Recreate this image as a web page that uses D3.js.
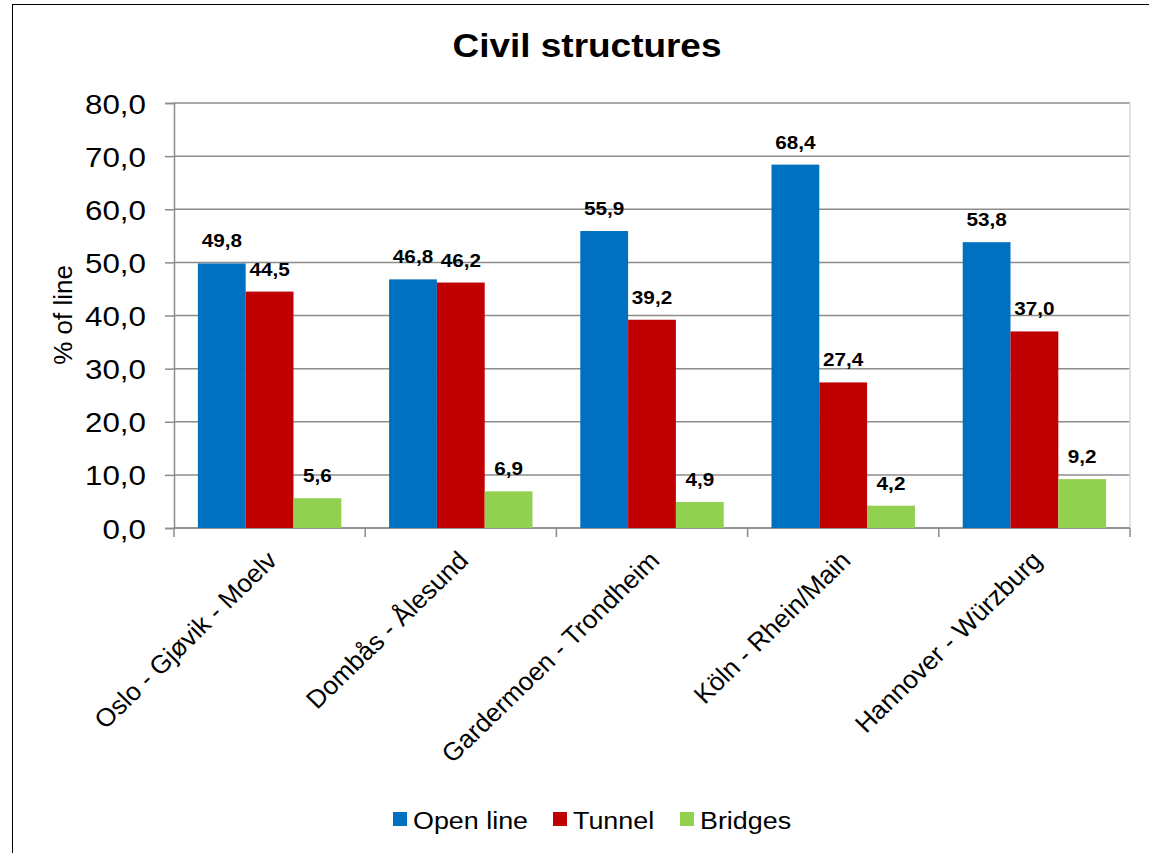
<!DOCTYPE html>
<html>
<head>
<meta charset="utf-8">
<script src="https://cdn.jsdelivr.net/npm/d3@7"></script>
<style>
  html, body { margin: 0; padding: 0; background: #fff; }
  svg { display: block; font-family: Arial, "Liberation Sans", sans-serif; }
</style>
</head>
<body>
<svg id="chart" width="1149" height="853"></svg>
<script>
// Share of each line's length by structure type
const routes = ["Oslo - Gjøvik - Moelv", "Dombås - Ålesund", "Gardermoen - Trondheim", "Köln - Rhein/Main", "Hannover - Würzburg"];
const seriesNames = ["Open line", "Tunnel", "Bridges"];
const openLine = [49.8, 46.8, 55.9, 68.4, 53.8];
const tunnel   = [44.5, 46.2, 39.2, 27.4, 37.0];
const bridges  = [5.6, 6.9, 4.9, 4.2, 9.2];
const yTicks = [0, 10, 20, 30, 40, 50, 60, 70, 80];
const colors = ["#0070C0", "#C00000", "#92D050"];

const values = [openLine, tunnel, bridges];
const fmt = v => v.toFixed(1).replace(".", ",");
const SX = 1.12; // horizontal text stretch

const svg = d3.select("#chart");
const plot = { left: 174, right: 1130, top: 103, bottom: 528 };
const gridColor = "#8c8c8c";

// chart frame
svg.append("rect")
  .attr("x", 12.5).attr("y", 4.5)
  .attr("width", 1200).attr("height", 900)
  .attr("fill", "none").attr("stroke", "#000").attr("stroke-width", 1);

const x = d3.scaleBand().domain(routes).range([plot.left, plot.right]);
const xs = d3.scaleBand().domain(seriesNames).range([0, x.bandwidth()]).paddingOuter(0.5);
const y = d3.scaleLinear().domain([0, 80]).range([plot.bottom, plot.top]);

// horizontal gridlines
svg.append("g").selectAll("line").data(yTicks).join("line")
  .attr("x1", plot.left).attr("x2", plot.right)
  .attr("y1", d => y(d)).attr("y2", d => y(d))
  .attr("stroke", gridColor).attr("stroke-width", 1.5);

// right edge of plot area
svg.append("line")
  .attr("x1", plot.right).attr("x2", plot.right)
  .attr("y1", plot.top).attr("y2", plot.bottom)
  .attr("stroke", "#d9d9d9").attr("stroke-width", 1.5);

// y axis
const yAxis = d3.axisLeft(y).tickValues(yTicks).tickFormat(fmt).tickSize(9);
const gy = svg.append("g").attr("transform", `translate(${plot.left},0)`).call(yAxis);
gy.select(".domain").attr("stroke", gridColor).attr("stroke-width", 1.5);
gy.selectAll(".tick line").attr("stroke", gridColor).attr("stroke-width", 1.5);
gy.selectAll(".tick text")
  .attr("x", null).attr("dy", null)
  .attr("transform", `translate(-28,10) scale(${SX},1)`)
  .attr("font-size", 28).attr("fill", "#000")
  .attr("font-family", "Arial, 'Liberation Sans', sans-serif");

// x axis line and ticks at category boundaries
const bounds = routes.map(r => x(r)).concat([plot.right]);
svg.append("g").selectAll("line").data(bounds).join("line")
  .attr("x1", d => d).attr("x2", d => d)
  .attr("y1", plot.bottom).attr("y2", plot.bottom + 9)
  .attr("stroke", gridColor).attr("stroke-width", 1.5);
svg.append("line")
  .attr("x1", plot.left).attr("x2", plot.right)
  .attr("y1", plot.bottom).attr("y2", plot.bottom)
  .attr("stroke", gridColor).attr("stroke-width", 1.5);

// category labels, rotated
svg.append("g").selectAll("text").data(routes).join("text")
  .attr("transform", d => `translate(${x(d) + x.bandwidth() / 2 + 9},${plot.bottom + 34}) scale(1.03,1) rotate(-45)`)
  .attr("text-anchor", "end")
  .attr("font-size", 25.5)
  .text(d => d);

// bars
const groups = svg.append("g").selectAll("g").data(seriesNames).join("g")
  .attr("fill", (d, i) => colors[i]);
groups.each(function (s, si) {
  d3.select(this).selectAll("rect").data(routes).join("rect")
    .attr("x", r => x(r) + xs(s))
    .attr("width", xs.bandwidth())
    .attr("y", (r, ri) => y(values[si][ri]))
    .attr("height", (r, ri) => y(0) - y(values[si][ri]));
});

// value labels
seriesNames.forEach((s, si) => {
  svg.append("g").selectAll("text").data(routes).join("text")
    .attr("transform", (r, ri) =>
      `translate(${x(r) + xs(s) + xs.bandwidth() / 2},${y(values[si][ri]) - 16}) scale(${SX},1)`)
    .attr("text-anchor", "middle")
    .attr("font-size", 18.5).attr("font-weight", "bold")
    .text((r, ri) => fmt(values[si][ri]));
});

// title
svg.append("text")
  .attr("transform", `translate(587,57) scale(${SX},1)`)
  .attr("text-anchor", "middle")
  .attr("font-size", 33).attr("font-weight", "bold")
  .text("Civil structures");

// y axis title
svg.append("text")
  .attr("transform", `translate(72,315) rotate(-90)`)
  .attr("text-anchor", "middle")
  .attr("font-size", 26)
  .text("% of line");

// legend
const legendX = [393, 553, 680];
const legend = svg.append("g").selectAll("g").data(seriesNames).join("g")
  .attr("transform", (d, i) => `translate(${legendX[i]},812)`);
legend.append("rect").attr("width", 14).attr("height", 14).attr("fill", (d, i) => colors[i]);
legend.append("text")
  .attr("transform", `translate(20,16.5) scale(${SX},1)`)
  .attr("font-size", 24)
  .text(d => d);
</script>
</body>
</html>
